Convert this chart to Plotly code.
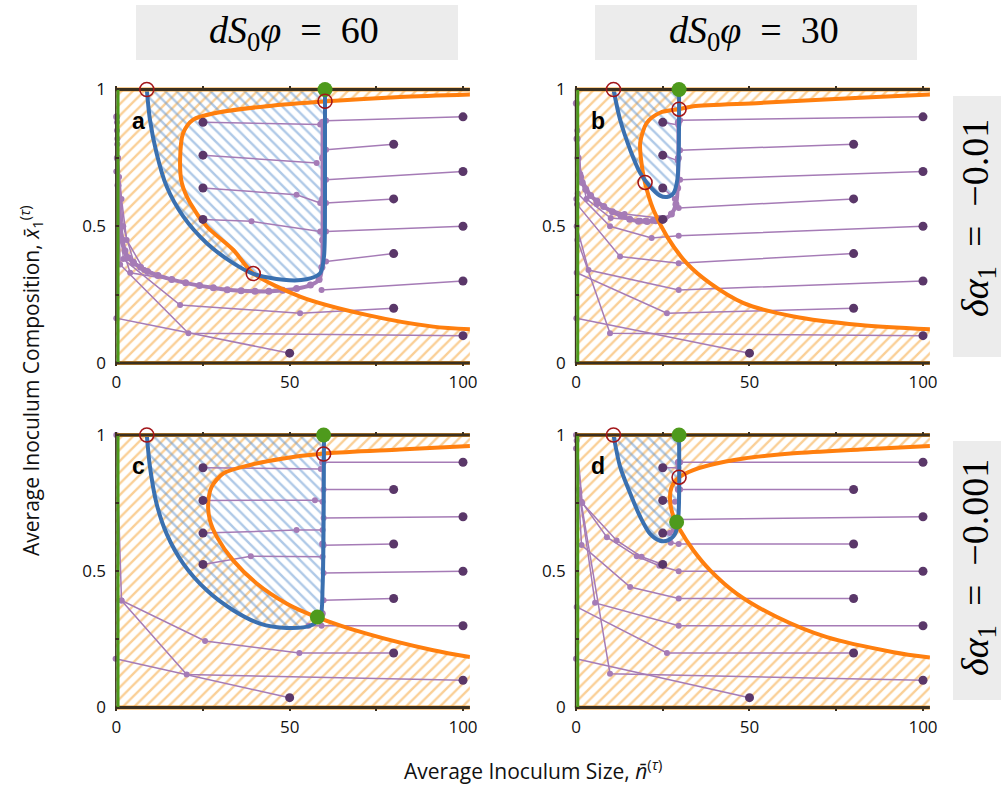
import plotly.graph_objects as go

OFF = 0
FW, FH = 1001, 786

# ---------------- data ----------------
# orange boundary curves (upper-right end -> tip -> lower-right end)
or_x_a = [102, 81.8, 60.7, 43.4, 29, 22.2, 19.3, 18.4, 18.9, 21.3, 26.1, 33.7, 39.5, 53, 72.2, 91.4, 102]
or_y_a = [0.982, 0.973, 0.957, 0.939, 0.915, 0.89, 0.841, 0.744, 0.658, 0.585, 0.499, 0.414, 0.328, 0.243, 0.176, 0.133, 0.123]
or_x_b = [102, 81.9, 53.1, 33.8, 30, 24.2, 20.4, 18.5, 19.0, 19.9, 22.3, 26.2, 31.9, 38.6, 48.3, 62.7, 81.9, 102]
or_y_b = [0.982, 0.970, 0.951, 0.939, 0.929, 0.915, 0.878, 0.805, 0.719, 0.658, 0.560, 0.463, 0.365, 0.292, 0.219, 0.170, 0.139, 0.123]
or_x_c = [102, 81.8, 60.7, 48.2, 38.6, 30.9, 27.5, 26.5, 27.0, 29.0, 33.7, 40.5, 49.2, 57.8, 72.2, 91.4, 102]
or_y_c = [0.960, 0.947, 0.933, 0.914, 0.89, 0.859, 0.81, 0.749, 0.687, 0.626, 0.540, 0.455, 0.381, 0.332, 0.271, 0.21, 0.185]
or_x_d = [102, 81.9, 62.7, 48.3, 38.6, 33.8, 30, 27.6, 27.1, 28.1, 30, 33.8, 38.6, 46.3, 57.9, 72.3, 91.5, 102]
or_y_d = [0.960, 0.947, 0.933, 0.914, 0.89, 0.871, 0.847, 0.81, 0.761, 0.70, 0.651, 0.577, 0.504, 0.418, 0.332, 0.258, 0.203, 0.183]

# blue boundary curves
bl_x_a = [8.8, 9.7, 11.6, 14.5, 19.3, 26.1, 33.7, 39.5, 48.2, 54.9, 58.8, 59.9, 60.2, 60.2]
bl_y_a = [1.0, 0.89, 0.768, 0.646, 0.536, 0.438, 0.365, 0.326, 0.304, 0.306, 0.328, 0.389, 0.585, 1.0]
bl_x_b = [10.8, 12.7, 15.6, 18.5, 21.3, 24.2, 26.2, 28.1, 29.2, 29.6, 29.7]
bl_y_b = [1.0, 0.89, 0.78, 0.695, 0.646, 0.612, 0.607, 0.621, 0.67, 0.768, 1.0]
bl_x_c = [8.8, 9.7, 11.6, 14.5, 19.3, 26.1, 33.7, 41.4, 49.2, 55.9, 58.8, 59.5, 59.9]
bl_y_c = [1.0, 0.884, 0.749, 0.638, 0.528, 0.43, 0.357, 0.308, 0.292, 0.30, 0.332, 0.442, 1.0]
bl_x_d = [10.8, 12.7, 15.6, 18.5, 21.3, 24.2, 26.6, 28.6, 29.5, 29.7]
bl_y_d = [1.0, 0.884, 0.786, 0.70, 0.638, 0.612, 0.614, 0.638, 0.70, 1.0]

# fixed points
unst_x_a, unst_y_a = [8.8, 60.2, 39.5], [1.0, 0.957, 0.327]
unst_x_b, unst_y_b = [10.8, 29.7, 19.9], [1.0, 0.928, 0.66]
unst_x_c, unst_y_c = [8.8, 59.8], [1.0, 0.93]
unst_x_d, unst_y_d = [10.8, 29.7], [1.0, 0.845]
stab_x_a, stab_y_a = [60.2], [1.0]
stab_x_b, stab_y_b = [29.7], [1.0]
stab_x_c, stab_y_c = [59.8, 58.0], [1.0, 0.332]
stab_x_d, stab_y_d = [29.7, 29.0], [1.0, 0.681]

# initial conditions (same in all panels)
start_x = [25, 25, 25, 25, 80, 80, 80, 80, 100, 100, 100, 100, 100, 50]
start_y = [0.88, 0.76, 0.64, 0.525, 0.8, 0.6, 0.4, 0.2, 0.9, 0.7, 0.5, 0.3, 0.1, 0.036]

# trajectories (x list, y list)
traj_a = [
    ([100, 60.5], [0.9, 0.886]),
    ([80, 60.5], [0.8, 0.78]),
    ([100, 60.5], [0.7, 0.67]),
    ([80, 60.5], [0.6, 0.585]),
    ([100, 60.5], [0.5, 0.481]),
    ([80, 60.5], [0.4, 0.371]),
    ([100, 59.2], [0.3, 0.267]),
    ([80, 53, 18.4, 2.0, 0.3], [0.2, 0.182, 0.212, 0.38, 0.8]),
    ([100, 20.8, 1.1, 0.2], [0.1, 0.109, 0.36, 0.85]),
    ([50, 0.0, 0.0], [0.036, 0.164, 0.7]),
    ([25, 58.8], [0.88, 0.872]),
    ([25, 57.8], [0.76, 0.731]),
    ([25, 52, 58.8], [0.64, 0.615, 0.585]),
    ([25, 39, 58.8], [0.525, 0.518, 0.481]),
    ([16, 4, 1, 0.3], [0.305, 0.33, 0.45, 0.7]),
    ([8, 3, 1.5, 0.5, 0.2], [0.34, 0.45, 0.6, 0.75, 0.88]),
    ([12, 5, 2, 0.8, 0.3], [0.32, 0.37, 0.5, 0.68, 0.82]),
]
bundle_x_a = [59.5, 59.5, 59.5, 59.5, 59.3, 58.5, 56, 52, 48, 44, 40, 36, 32, 28, 24, 20, 16, 12, 9, 7, 5, 3.5, 2.5, 1.8, 1.2, 0.8, 0.5, 0.3, 0.1]
bundle_y_a = [0.88, 0.75, 0.6, 0.45, 0.35, 0.305, 0.285, 0.272, 0.266, 0.262, 0.262, 0.264, 0.268, 0.275, 0.283, 0.293, 0.305, 0.32, 0.335, 0.35, 0.365, 0.385, 0.41, 0.45, 0.5, 0.57, 0.65, 0.75, 0.9]

traj_b = [
    ([100, 30], [0.9, 0.888]),
    ([80, 30], [0.8, 0.778]),
    ([100, 30], [0.7, 0.67]),
    ([80, 29.6], [0.6, 0.567]),
    ([100, 29.6, 21.8, 9.8, 0.5], [0.5, 0.465, 0.457, 0.5, 0.62]),
    ([80, 29.6, 12.7, 0.3], [0.4, 0.365, 0.389, 0.58]),
    ([100, 29.6, 3.6, 0.2], [0.3, 0.267, 0.34, 0.5]),
    ([80, 26.2, 0.2, 0.1], [0.2, 0.182, 0.33, 0.6]),
    ([100, 9.8, 0.4], [0.1, 0.109, 0.45]),
    ([50, 0.1], [0.036, 0.164]),
    ([25, 29.5], [0.88, 0.87]),
    ([25, 29.3], [0.76, 0.74]),
    ([25, 28.5], [0.64, 0.6]),
    ([25, 22, 18.5], [0.525, 0.52, 0.52]),
    ([20, 10, 3, 0.5], [0.52, 0.53, 0.6, 0.75]),
    ([24, 14, 6, 1.5, 0.4], [0.53, 0.545, 0.58, 0.68, 0.85]),
]
bundle_x_b = [29.5, 29.5, 29.3, 28.8, 27.5, 25.5, 23, 20.5, 18, 15.5, 13, 10.5, 8, 6, 4.2, 2.8, 1.8, 1.1, 0.6, 0.3, 0.1]
bundle_y_b = [0.88, 0.75, 0.64, 0.58, 0.545, 0.527, 0.52, 0.517, 0.518, 0.526, 0.538, 0.553, 0.572, 0.592, 0.612, 0.635, 0.66, 0.69, 0.75, 0.82, 0.95]

traj_c = [
    ([100, 59.8], [0.9, 0.9]),
    ([80, 59.8], [0.8, 0.8]),
    ([100, 59.8], [0.7, 0.695]),
    ([80, 59.8], [0.6, 0.595]),
    ([100, 59.8], [0.5, 0.494]),
    ([80, 59.8], [0.4, 0.394]),
    ([100, 59.2, 55.5], [0.3, 0.3, 0.3]),
    ([80, 52.8, 25.6, 1.5, 0.0], [0.2, 0.2, 0.244, 0.393, 1.0]),
    ([100, 20.3, 1.5], [0.1, 0.121, 0.393]),
    ([50, -0.2], [0.036, 0.179]),
    ([25, 59], [0.88, 0.875]),
    ([25, 57.3, 59.5], [0.76, 0.761, 0.755]),
    ([25, 52, 59.5], [0.64, 0.651, 0.651]),
    ([25, 38.8, 59.5], [0.525, 0.555, 0.553]),
]
bundle_x_c = [59.5, 59.5, 59.4]
bundle_y_c = [0.9, 0.6, 0.345]

traj_d = [
    ([100, 30], [0.9, 0.9]),
    ([80, 30], [0.8, 0.8]),
    ([100, 29.6], [0.7, 0.69]),
    ([80, 29.6, 27.3, 28.3], [0.6, 0.6, 0.605, 0.65]),
    ([100, 29.6, 24, 17.5, 8.9, 1.6, 0.0], [0.5, 0.5, 0.52, 0.555, 0.625, 0.755, 1.0]),
    ([80, 29.6, 15.6, 1.6, 0.0], [0.4, 0.4, 0.442, 0.596, 0.95]),
    ([100, 29.6, 5.5, 0.8], [0.3, 0.3, 0.384, 0.8]),
    ([80, 26.2, 0.2], [0.2, 0.2, 0.369]),
    ([100, 9.8, 1.0], [0.1, 0.124, 0.79]),
    ([50, 0.0], [0.036, 0.179]),
    ([25, 29.5], [0.88, 0.88]),
    ([25, 28.5], [0.76, 0.755]),
    ([25, 27, 28.5], [0.64, 0.64, 0.67]),
    ([25, 18.9, 11.7, 1.8, 0.2], [0.525, 0.553, 0.613, 0.75, 0.98]),
]
bundle_x_d = [29.5, 29.5, 29.3]
bundle_y_d = [0.9, 0.8, 0.69]

panel_letters = ["a", "b", "c", "d"]
col_titles = ["<i>dS</i><sub>0</sub><i>φ</i>\u2002=\u200260", "<i>dS</i><sub>0</sub><i>φ</i>\u2002=\u200230"]
row_titles = ["<i>δα</i><sub>1</sub>\u2002=\u2002−0.01", "<i>δα</i><sub>1</sub>\u2002=\u2002−0.001"]
x_tickvals = [0, 50, 100]
x_ticktext = ["0", "50", "100"]
x_minor_vals = [25, 75]
y_tickvals = [0, 0.5, 1]
y_ticktext = ["0", "0.5", "1"]
y_minor_vals = [0.25, 0.75]

# ---------------- styles ----------------
ORANGE = "#ff7f0e"
ORANGE_HATCH = "#f5a02e"
BLUE = "#3a70b0"
BLUE_HATCH = "#5f93cf"
GREEN = "#4e9a1c"
RED = "#a3161a"
PURPLE = "#a57bb6"
PURPLE_DARK = "#5a3769"
FRAME = "#3b3020"

XMIN, XMAX = -0.35, 102.0
YMIN, YMAX = -0.012, 1.012

fig = go.Figure()

panels = [
    dict(ax="", ox=or_x_a, oy=or_y_a, bx=bl_x_a, by=bl_y_a, ux=unst_x_a, uy=unst_y_a,
         sx=stab_x_a, sy=stab_y_a, tr=traj_a, bux=bundle_x_a, buy=bundle_y_a, bw=4),
    dict(ax="2", ox=or_x_b, oy=or_y_b, bx=bl_x_b, by=bl_y_b, ux=unst_x_b, uy=unst_y_b,
         sx=stab_x_b, sy=stab_y_b, tr=traj_b, bux=bundle_x_b, buy=bundle_y_b, bw=4),
    dict(ax="3", ox=or_x_c, oy=or_y_c, bx=bl_x_c, by=bl_y_c, ux=unst_x_c, uy=unst_y_c,
         sx=stab_x_c, sy=stab_y_c, tr=traj_c, bux=bundle_x_c, buy=bundle_y_c, bw=2),
    dict(ax="4", ox=or_x_d, oy=or_y_d, bx=bl_x_d, by=bl_y_d, ux=unst_x_d, uy=unst_y_d,
         sx=stab_x_d, sy=stab_y_d, tr=traj_d, bux=bundle_x_d, buy=bundle_y_d, bw=2),
]

for i, p in enumerate(panels):
    xa, ya = "x" + p["ax"], "y" + p["ax"]
    # orange hatched region: box minus interior of the C-shaped curve
    poly_x = [XMIN, p["ox"][-1], p["ox"][-1]] + p["ox"][::-1] + [p["ox"][0], XMIN]
    poly_y = [0, 0, p["oy"][-1]] + p["oy"][::-1] + [1, 1]
    fig.add_trace(go.Scatter(x=poly_x, y=poly_y, xaxis=xa, yaxis=ya, mode="lines",
                             fill="toself", fillcolor="rgba(0,0,0,0)", line=dict(width=0),
                             fillpattern=dict(shape="/", fgcolor=ORANGE_HATCH,
                                              bgcolor="rgba(0,0,0,0)", size=8, solidity=0.3),
                             hoverinfo="skip"))
    # blue hatched region
    fig.add_trace(go.Scatter(x=p["bx"], y=p["by"], xaxis=xa, yaxis=ya, mode="lines",
                             fill="toself", fillcolor="rgba(0,0,0,0)", line=dict(width=0),
                             fillpattern=dict(shape="\\", fgcolor=BLUE_HATCH,
                                              bgcolor="rgba(0,0,0,0)", size=8, solidity=0.3),
                             hoverinfo="skip"))
    # trajectories
    for tx, ty in p["tr"]:
        fig.add_trace(go.Scatter(x=tx, y=ty, xaxis=xa, yaxis=ya, mode="lines+markers",
                                 line=dict(color=PURPLE, width=1.5),
                                 marker=dict(color=PURPLE, size=6), cliponaxis=False,
                                 hoverinfo="skip"))
    fig.add_trace(go.Scatter(x=p["bux"], y=p["buy"], xaxis=xa, yaxis=ya, mode="lines+markers",
                             line=dict(color=PURPLE, width=p["bw"], shape="spline"),
                             marker=dict(color=PURPLE, size=7), cliponaxis=False,
                             hoverinfo="skip"))
    # boundary curves
    fig.add_trace(go.Scatter(x=p["ox"], y=p["oy"], xaxis=xa, yaxis=ya, mode="lines",
                             line=dict(color=ORANGE, width=4, shape="spline", smoothing=0.8),
                             hoverinfo="skip"))
    fig.add_trace(go.Scatter(x=p["bx"], y=p["by"], xaxis=xa, yaxis=ya, mode="lines",
                             line=dict(color=BLUE, width=4, shape="spline", smoothing=0.8),
                             hoverinfo="skip"))
    # frame lines
    for yy in (0, 1):
        fig.add_trace(go.Scatter(x=[XMIN, XMAX], y=[yy, yy], xaxis=xa, yaxis=ya, mode="lines",
                                 line=dict(color=ORANGE_HATCH, width=4), cliponaxis=False,
                                 hoverinfo="skip"))
        fig.add_trace(go.Scatter(x=[XMIN, XMAX], y=[yy, yy], xaxis=xa, yaxis=ya, mode="lines",
                                 line=dict(color=FRAME, width=3), cliponaxis=False,
                                 hoverinfo="skip"))
    fig.add_trace(go.Scatter(x=[-0.2, -0.2], y=[0, 1], xaxis=xa, yaxis=ya, mode="lines",
                             line=dict(color=FRAME, width=2), cliponaxis=False, hoverinfo="skip"))
    fig.add_trace(go.Scatter(x=[0.5, 0.5], y=[0, 1], xaxis=xa, yaxis=ya, mode="lines",
                             line=dict(color=GREEN, width=3), cliponaxis=False, hoverinfo="skip"))
    # initial conditions
    fig.add_trace(go.Scatter(x=start_x, y=start_y, xaxis=xa, yaxis=ya, mode="markers",
                             marker=dict(color=PURPLE_DARK, size=9), cliponaxis=False,
                             hoverinfo="skip"))
    # fixed points
    fig.add_trace(go.Scatter(x=p["sx"], y=p["sy"], xaxis=xa, yaxis=ya, mode="markers",
                             marker=dict(color=GREEN, size=15), cliponaxis=False,
                             hoverinfo="skip"))
    fig.add_trace(go.Scatter(x=p["ux"], y=p["uy"], xaxis=xa, yaxis=ya, mode="markers",
                             marker=dict(color="rgba(0,0,0,0)", size=14,
                                         line=dict(color=RED, width=1.6)),
                             cliponaxis=False, hoverinfo="skip"))
    fig.add_annotation(x=6.4, y=0.885, xref=xa, yref=ya, text="<b>%s</b>" % panel_letters[i],
                       showarrow=False, xanchor="center", yanchor="middle",
                       font=dict(family="Liberation Sans", size=23, color="black"))

# ---------------- layout (positions given in window pixels) ----------------
def xdom(p0, p100):
    u = (p100 - p0) / 100.0
    return [(p0 + XMIN * u - OFF) / FW, (p0 + XMAX * u - OFF) / FW]

def ydom(p0, p1):
    u = p0 - p1
    return [1 - (p0 - YMIN * u - OFF) / FH, 1 - (p0 - YMAX * u - OFF) / FH]

tickfont = dict(family="Open Sans", size=17, color="#111")
xcommon = dict(range=[XMIN, XMAX], tickvals=x_tickvals, ticktext=x_ticktext, ticks="inside",
               ticklen=4, tickwidth=2, tickcolor=FRAME, showgrid=False, zeroline=False,
               showline=False, mirror="ticks", tickfont=tickfont, ticklabelstandoff=4,
               automargin=False,
               minor=dict(tickvals=x_minor_vals, ticks="inside", ticklen=4, tickwidth=2,
                          tickcolor=FRAME, showgrid=False))
ycommon = dict(range=[YMIN, YMAX], tickvals=y_tickvals, ticktext=y_ticktext, ticks="inside",
               ticklen=4, tickwidth=2, tickcolor=FRAME, showgrid=False, zeroline=False,
               showline=False, tickfont=tickfont, ticklabelstandoff=8, automargin=False,
               minor=dict(tickvals=y_minor_vals, ticks="inside", ticklen=4, tickwidth=2,
                          tickcolor=FRAME, showgrid=False))

fig.update_layout(
    width=FW, height=FH, margin=dict(l=0, r=0, t=0, b=0, pad=0, autoexpand=False),
    paper_bgcolor="white", plot_bgcolor="white", showlegend=False,
    xaxis=dict(domain=xdom(116.3, 463.0), anchor="y", **xcommon),
    yaxis=dict(domain=ydom(363.0, 89.5), anchor="x", **ycommon),
    xaxis2=dict(domain=xdom(576.0, 923.0), anchor="y2", **xcommon),
    yaxis2=dict(domain=ydom(363.0, 89.5), anchor="x2", **ycommon),
    xaxis3=dict(domain=xdom(116.3, 463.0), anchor="y3", **xcommon),
    yaxis3=dict(domain=ydom(707.5, 435.0), anchor="x3", **ycommon),
    xaxis4=dict(domain=xdom(576.0, 923.0), anchor="y4", **xcommon),
    yaxis4=dict(domain=ydom(707.5, 435.0), anchor="x4", **ycommon),
)

def px(x):
    return (x - OFF) / FW

def py(y):
    return 1 - (y - OFF) / FH

shapes = []
for (x0, x1) in [(136, 458), (595, 917)]:
    shapes.append(dict(type="rect", xref="paper", yref="paper", x0=px(x0), x1=px(x1),
                       y0=py(60), y1=py(5), fillcolor="#ececec", line=dict(width=0), layer="below"))
for (y0, y1) in [(96, 357), (441, 700)]:
    shapes.append(dict(type="rect", xref="paper", yref="paper", x0=px(953), x1=px(1001),
                       y0=py(y1), y1=py(y0), fillcolor="#ececec", line=dict(width=0), layer="below"))
fig.update_layout(shapes=shapes)

serif = dict(family="Liberation Serif", size=38, color="black")
for cx, t in zip([294, 754], col_titles):
    fig.add_annotation(x=px(cx), y=py(33), xref="paper", yref="paper", text=t,
                       showarrow=False, font=serif, xanchor="center", yanchor="middle")
for cy, t in zip([218, 568], row_titles):
    fig.add_annotation(x=px(978), y=py(cy), xref="paper", yref="paper", text=t,
                       showarrow=False, font=serif, textangle=-90,
                       xanchor="center", yanchor="middle")

labfont = dict(family="Open Sans", size=21, color="#111")
fig.add_annotation(x=px(533), y=py(769), xref="paper", yref="paper",
                   text="Average Inoculum Size, <i>n̄</i><sup>(<i>τ</i>)</sup>",
                   showarrow=False, font=labfont, xanchor="center", yanchor="middle")
fig.add_annotation(x=px(30), y=py(381), xref="paper", yref="paper",
                   text="Average Inoculum Composition, <i>x̄</i><sub>1</sub><sup>(<i>τ</i>)</sup>",
                   showarrow=False, font=labfont, textangle=-90,
                   xanchor="center", yanchor="middle")

fig.write_html("out.html")
